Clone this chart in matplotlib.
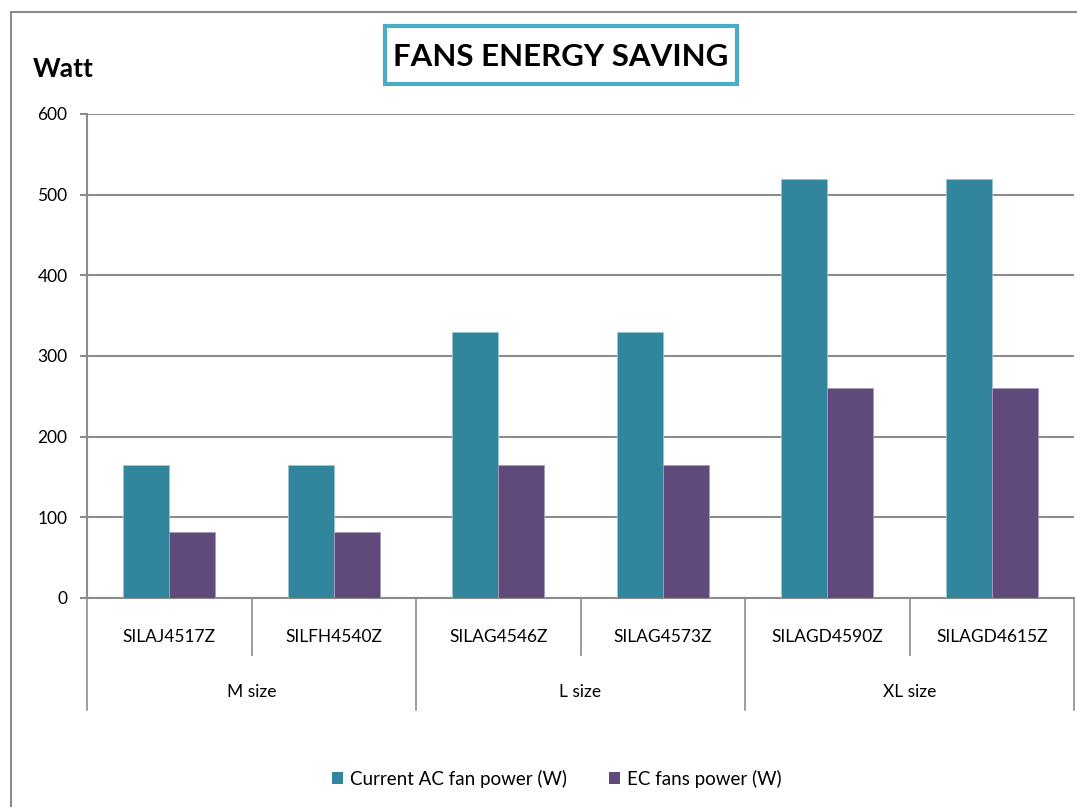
import numpy as np
import matplotlib
matplotlib.use("Agg")
import matplotlib.pyplot as plt
from matplotlib.lines import Line2D
from matplotlib.patches import Rectangle, Patch
from matplotlib.transforms import blended_transform_factory

# fan models, size groups and power draw
categories = ["SILAJ4517Z", "SILFH4540Z", "SILAG4546Z", "SILAG4573Z", "SILAGD4590Z", "SILAGD4615Z"]
groups = ["M size", "L size", "XL size"]
ac_power = [165, 165, 330, 330, 520, 520]
ec_power = [82, 82, 165, 165, 260, 260]
series_names = ["Current AC fan power (W)", "EC fans power (W)"]

teal = "#31859C"
purple = "#604A7B"
grey = "#8C8C8C"

plt.rcParams['font.family'] = ['Lato', 'DejaVu Sans']

W, H = 1077, 807
fig = plt.figure(figsize=(W / 100, H / 100), dpi=100)
ax = fig.add_axes([87 / W, 1 - 598 / H, (1074 - 87) / W, (598 - 114) / H])

x = np.arange(len(categories))
bw = 0.28
ax.bar(x - bw / 2, ac_power, bw, color=teal, edgecolor="#9BC5D3", linewidth=0.6, zorder=3)
ax.bar(x + bw / 2, ec_power, bw, color=purple, edgecolor="#A99BBB", linewidth=0.6, zorder=3)

ax.set_xlim(-0.5, len(categories) - 0.5)
ax.set_ylim(0, 600)
ax.set_yticks(np.arange(0, 601, 100))
ax.yaxis.grid(True, color=grey, linewidth=1.5, zorder=0)
ax.set_axisbelow(True)
ax.tick_params(axis="y", length=5, width=1.5, color=grey, labelsize=12.5, pad=9)
ax.set_xticks([])
for s in ["top", "right"]:
    ax.spines[s].set_visible(False)
for s in ["left", "bottom"]:
    ax.spines[s].set_color(grey)
    ax.spines[s].set_linewidth(1.5)

# two-level category axis below the plot
tr = blended_transform_factory(ax.transData, ax.transAxes)
for i in range(len(categories) + 1):
    xs = i - 0.5
    low = -0.231 if i % 2 == 0 else -0.118
    ax.plot([xs, xs], [0, low], color=grey, linewidth=1.2, transform=tr, clip_on=False)
for i, c in enumerate(categories):
    ax.text(i, -0.081, c, transform=tr, ha="center", va="center", fontsize=12.5)
for j, g in enumerate(groups):
    ax.text(2 * j + 0.5, -0.194, g, transform=tr, ha="center", va="center", fontsize=12.5)

# outer chart frame, open on the right and bottom
fig.add_artist(Line2D([11 / W, 11 / W], [0, 1 - 12 / H], color=grey, linewidth=1.5))
fig.add_artist(Line2D([11 / W, 1], [1 - 12 / H, 1 - 12 / H], color=grey, linewidth=1.5))

# title in a framed box
fig.add_artist(Rectangle((385 / W, 1 - 84 / H), (737 - 385) / W, (84 - 26) / H,
                         transform=fig.transFigure, fill=False, edgecolor="#4BACC6", linewidth=3))
fig.text(561 / W, 1 - 57 / H, "FANS ENERGY SAVING", ha="center", va="center",
         fontsize=22.5, fontweight="bold")
fig.text(33 / W, 1 - 69 / H, "Watt", ha="left", va="center", fontsize=19, fontweight="bold")

handles = [Patch(facecolor=teal), Patch(facecolor=purple)]
fig.legend(handles, series_names, loc="center", bbox_to_anchor=(0.517, 1 - 779 / H), ncol=2,
           frameon=False, fontsize=13.5, handlelength=0.6, handleheight=0.6,
           handletextpad=0.4, columnspacing=2.2)

fig.savefig("out.png", dpi=100)
